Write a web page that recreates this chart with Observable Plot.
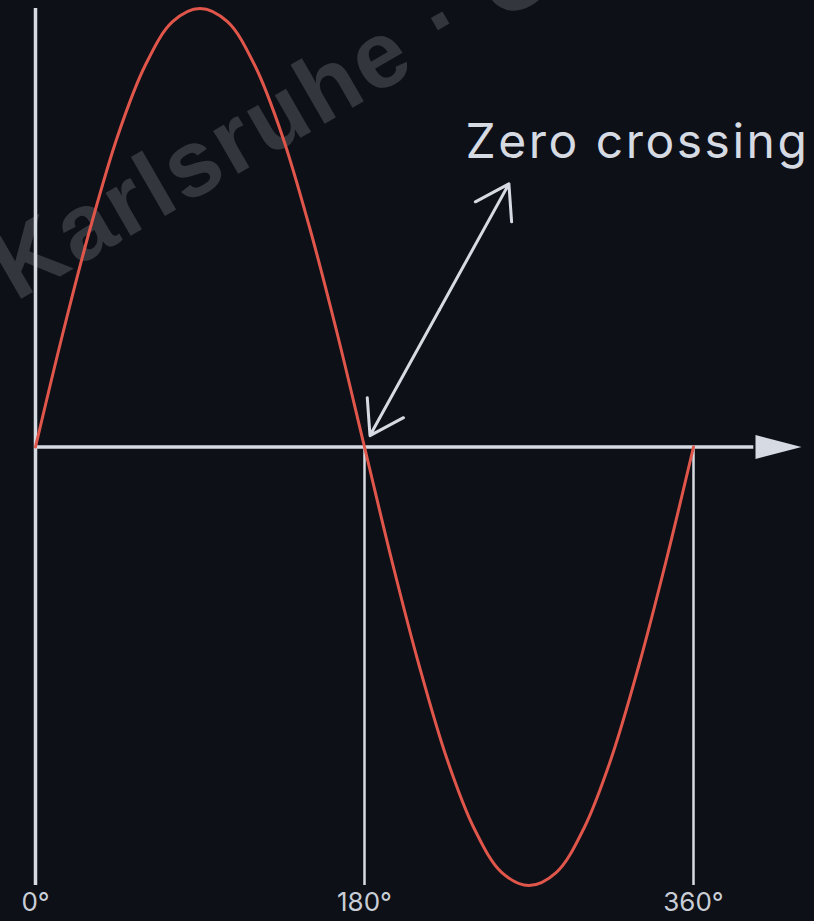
<!DOCTYPE html>
<html>
<head>
<meta charset="utf-8">
<script src="https://cdn.jsdelivr.net/npm/d3@7"></script>
<script src="https://cdn.jsdelivr.net/npm/@observablehq/plot@0.6"></script>
<style>
  html, body { margin: 0; padding: 0; background: #0d1017; }
  #chart svg { display: block; }
</style>
</head>
<body>
<div id="chart"></div>
<script>
// ---- data ----
const phaseDegrees = [0, 15, 30, 45, 60, 75, 90, 105, 120, 135, 150, 165, 180,
                      195, 210, 225, 240, 255, 270, 285, 300, 315, 330, 345, 360];
const voltage = [0, 0.26, 0.5, 0.71, 0.87, 0.97, 1, 0.97, 0.87, 0.71, 0.5, 0.26, 0,
                 -0.26, -0.5, -0.71, -0.87, -0.97, -1, -0.97, -0.87, -0.71, -0.5, -0.26, 0];
const tickDegrees = [0, 180, 360];
const tickLabels = ["0°", "180°", "360°"];
const fullGuide = [0];          // guide spanning the whole height
const halfGuides = [180, 360];  // guides below the axis only
const axisShaftEnd = 393;       // degrees where the axis arrowhead starts
const axisHeadCenter = 406.5;   // degrees of the arrowhead centre
const pointerEnds = [{deg: 183, v: 0.026}, {deg: 259, v: 0.60}];
const annotation = [{deg: 235.3, v: 0.693, text: "Zero crossing"}];
const watermark = [{deg: -19, v: 0.39, text: "Karlsruhe · C"}];

// ---- styles ----
const ink = "#d6dae2";
const red = "#e0564b";

const table = phaseDegrees.map((d, i) => ({deg: d, v: voltage[i]}));
const mid = {
  deg: (pointerEnds[0].deg + pointerEnds[1].deg) / 2,
  v: (pointerEnds[0].v + pointerEnds[1].v) / 2
};
const pointers = pointerEnds.map(e => ({x1: mid.deg, y1: mid.v, x2: e.deg, y2: e.v}));

const rightTriangle = {
  draw(context) {
    context.moveTo(-23, -12);
    context.lineTo(23, 0);
    context.lineTo(-23, 12);
    context.closePath();
  }
};

const chart = Plot.plot({
  width: 814,
  height: 921,
  marginLeft: 35,
  marginRight: 121,
  marginTop: 8,
  marginBottom: 36,
  x: {domain: [0, 360], axis: null},
  y: {domain: [-1, 1], axis: null},
  style: {background: "#0d1017", fontFamily: "Inter, sans-serif", overflow: "visible"},
  marks: [
    Plot.text(watermark, {
      x: "deg", y: "v", text: "text", rotate: -30, textAnchor: "start",
      fontSize: 94, fontWeight: 700, fontFamily: "Liberation Sans",
      fill: "#ffffff", fillOpacity: 0.16
    }),
    Plot.ruleX(fullGuide, {y1: -1, y2: 1, stroke: ink, strokeWidth: 3.5}),
    Plot.ruleX(halfGuides, {y1: -1, y2: 0, stroke: ink, strokeWidth: 2.5}),
    Plot.ruleY([0], {x1: 0, x2: axisShaftEnd, stroke: ink, strokeWidth: 3.5}),
    Plot.dot([{deg: axisHeadCenter, v: 0}], {x: "deg", y: "v", symbol: rightTriangle, fill: ink, stroke: "none"}),
    Plot.line(table, {x: "deg", y: "v", curve: "catmull-rom", stroke: red, strokeWidth: 3}),
    Plot.arrow(pointers, {
      x1: "x1", y1: "y1", x2: "x2", y2: "y2",
      stroke: ink, strokeWidth: 3, headLength: 19, headAngle: 66
    }),
    Plot.text(annotation, {
      x: "deg", y: "v", text: "text", textAnchor: "start",
      fontSize: 48, fontWeight: 400, fontFamily: "Inter", fill: ink
    }),
    Plot.text(tickDegrees, {
      x: d => d, text: (d, i) => tickLabels[i], frameAnchor: "bottom", dy: 25,
      fontSize: 26, fontFamily: "Inter", fill: "#c9cdd5", textAnchor: "middle"
    })
  ]
});

d3.select(chart).selectAll("text")
  .filter(function () { return this.textContent === annotation[0].text; })
  .attr("letter-spacing", 2.5);
d3.select(chart).selectAll("text")
  .filter(function () { return this.textContent === watermark[0].text; })
  .attr("letter-spacing", 3);

document.getElementById("chart").append(chart);
</script>
</body>
</html>
